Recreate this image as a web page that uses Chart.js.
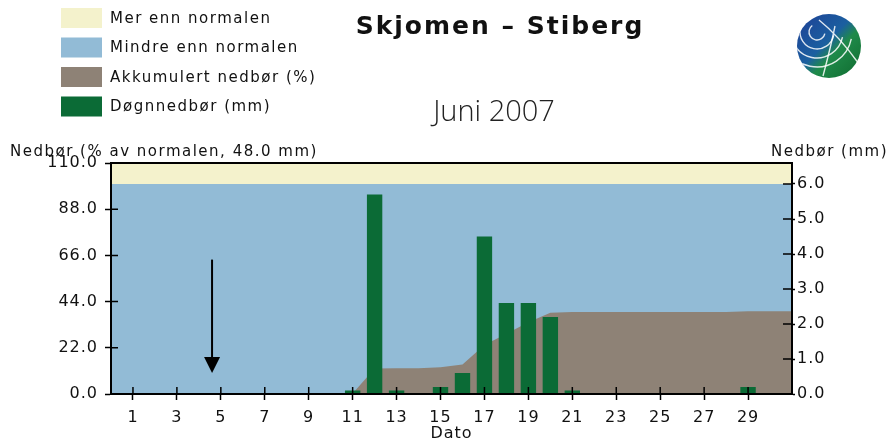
<!DOCTYPE html>
<html>
<head>
<meta charset="utf-8">
<script src="https://cdn.jsdelivr.net/npm/chart.js@4.4.1/dist/chart.umd.min.js"></script>
<style>
  html, body { margin: 0; padding: 0; background: #fff; }
  canvas { display: block; }
</style>
</head>
<body>
<canvas id="nedbor" width="890" height="443"></canvas>
<script>
// Juni 2007, dag for dag
const dager = [1, 2, 3, 4, 5, 6, 7, 8, 9, 10, 11, 12, 13, 14, 15,
  16, 17, 18, 19, 20, 21, 22, 23, 24, 25, 26, 27, 28, 29, 30];
// Døgnnedbør (mm)
const dogn = [0, 0, 0, 0, 0, 0, 0, 0, 0, 0, 0.1, 5.7, 0.1, 0, 0.2,
  0.6, 4.5, 2.6, 2.6, 2.2, 0.1, 0, 0, 0, 0, 0, 0, 0, 0.2, 0];
// Akkumulert nedbør (% av normalen)
const akkumulert = [0, 0, 0, 0, 0, 0, 0, 0, 0, 0, 0.2, 12.1, 12.3, 12.3, 12.7,
  14.0, 23.3, 28.7, 34.2, 38.7, 39.0, 39.0, 39.0, 39.0, 39.0, 39.0, 39.0, 39.0, 39.4, 39.4];

const dagTicks = [1, 3, 5, 7, 9, 11, 13, 15, 17, 19, 21, 23, 25, 27, 29];
const prosentTicks = [0, 22, 44, 66, 88, 110];
const mmTicks = [0, 1, 2, 3, 4, 5, 6];
const normalProsent = 100;
const maksProsent = 110;
const maksMm = 6.6;
const normalMm = 48.0;
const xMin = 0, xMax = 31;
// pila i plottet (dag, fra/til i % av normalen)
const pil = { dag: 4.6, fra: 64, til: 10 };

const gul = '#f4f2cc', bla = '#92bbd6', brun = '#8e8276', gronn = '#0b6b36';

Chart.defaults.font.family = '"DejaVu Sans", Verdana, sans-serif';

const flate = v => [{ x: xMin, y: v }, { x: xMax, y: v }];

const pynt = {
  id: 'pynt',
  beforeDraw(chart) {
    chart.ctx.letterSpacing = '1px';
  },
  afterDatasetsDraw(chart) {
    const { ctx, chartArea: a, scales } = chart;
    ctx.save();
    ctx.strokeStyle = '#000';
    // innoverpekende tick-merker
    ctx.lineWidth = 1.5;
    ctx.beginPath();
    scales.x.ticks.forEach(t => {
      const x = scales.x.getPixelForValue(t.value);
      ctx.moveTo(x, a.bottom); ctx.lineTo(x, a.bottom - 7);
    });
    scales.y.ticks.forEach(t => {
      const y = scales.y.getPixelForValue(t.value);
      ctx.moveTo(a.left, y); ctx.lineTo(a.left + 7, y);
    });
    scales.y1.ticks.forEach(t => {
      const y = scales.y1.getPixelForValue(t.value);
      ctx.moveTo(a.right, y); ctx.lineTo(a.right - 9, y);
    });
    ctx.stroke();
    // ramme
    ctx.lineWidth = 2;
    ctx.strokeRect(a.left, a.top, a.right - a.left, a.bottom - a.top);
    // pil
    const px = scales.x.getPixelForValue(pil.dag);
    const y0 = scales.y.getPixelForValue(pil.fra);
    const y1 = scales.y.getPixelForValue(pil.til);
    ctx.beginPath();
    ctx.moveTo(px, y0); ctx.lineTo(px, y1 - 14);
    ctx.stroke();
    ctx.fillStyle = '#000';
    ctx.beginPath();
    ctx.moveTo(px - 8, y1 - 16); ctx.lineTo(px + 8, y1 - 16); ctx.lineTo(px, y1);
    ctx.closePath();
    ctx.fill();
    ctx.restore();
  },
  afterDraw(chart) {
    const { ctx } = chart;
    ctx.save();
    // tegnforklaring
    ctx.font = '15px "DejaVu Sans"';
    ctx.letterSpacing = '1.5px';
    ctx.textBaseline = 'middle';
    ctx.textAlign = 'left';
    chart.data.datasets.forEach((d, i) => {
      const y = 18 + i * 29.5;
      ctx.fillStyle = d.backgroundColor;
      ctx.fillRect(61, y - 10, 41, 20);
      ctx.fillStyle = '#111';
      ctx.fillText(d.label, 110, y + 1);
    });
    // aksetitler
    ctx.textBaseline = 'alphabetic';
    ctx.fillText('Nedbør (% av normalen, ' + normalMm.toFixed(1) + ' mm)', 10, 156);
    ctx.textAlign = 'right';
    ctx.fillText('Nedbør (mm)', 888, 156);
    // tittel
    ctx.textAlign = 'center';
    ctx.letterSpacing = '2px';
    ctx.font = 'bold 25px "DejaVu Sans"';
    ctx.fillStyle = '#111';
    ctx.fillText('Skjomen – Stiberg', 500, 34);
    ctx.letterSpacing = '0px';
    ctx.font = '300 29px "Open Sans"';
    ctx.fillStyle = '#222';
    ctx.fillText('Juni 2007', 494, 121);
    // logo
    const cx = 829, cy = 46, r = 32;
    const g = ctx.createLinearGradient(cx - r, cy - r, cx + r, cy + r);
    g.addColorStop(0, '#1f3f95');
    g.addColorStop(0.45, '#1b5fa0');
    g.addColorStop(0.6, '#1f8a4a');
    g.addColorStop(1, '#0f6a2e');
    ctx.beginPath();
    ctx.arc(cx, cy, r, 0, Math.PI * 2);
    ctx.fillStyle = g;
    ctx.fill();
    ctx.save();
    ctx.clip();
    ctx.strokeStyle = 'rgba(255,255,255,0.85)';
    ctx.lineWidth = 1.4;
    for (let k = 0; k < 4; k++) {
      ctx.beginPath();
      ctx.arc(cx - 12, cy - 14, 8 + k * 9, 0.2, Math.PI * 1.3);
      ctx.stroke();
    }
    ctx.beginPath();
    ctx.moveTo(cx - 10, cy - 26); ctx.quadraticCurveTo(cx + 10, cy - 10, cx + 30, cy + 18);
    ctx.moveTo(cx - 6, cy + 30); ctx.quadraticCurveTo(cx + 2, cy, cx + 6, cy - 20);
    ctx.stroke();
    ctx.restore();
    ctx.restore();
  }
};

new Chart(document.getElementById('nedbor'), {
  type: 'bar',
  data: {
    datasets: [
      {
        type: 'line',
        label: 'Mer enn normalen',
        data: flate(maksProsent),
        backgroundColor: gul,
        borderColor: 'transparent',
        borderWidth: 0,
        pointRadius: 0,
        fill: 'origin',
        yAxisID: 'y',
        order: 4
      },
      {
        type: 'line',
        label: 'Mindre enn normalen',
        data: flate(normalProsent),
        backgroundColor: bla,
        borderColor: 'transparent',
        borderWidth: 0,
        pointRadius: 0,
        fill: 'origin',
        yAxisID: 'y',
        order: 3
      },
      {
        type: 'line',
        label: 'Akkumulert nedbør (%)',
        data: [{ x: xMin, y: 0 }]
          .concat(dager.map((d, i) => ({ x: d, y: akkumulert[i] })))
          .concat([{ x: xMax, y: akkumulert[akkumulert.length - 1] }]),
        backgroundColor: brun,
        borderColor: 'transparent',
        borderWidth: 0,
        pointRadius: 0,
        fill: 'origin',
        yAxisID: 'y',
        order: 2
      },
      {
        type: 'bar',
        label: 'Døgnnedbør (mm)',
        data: dager.map((d, i) => ({ x: d, y: dogn[i] })),
        backgroundColor: gronn,
        barPercentage: 0.7,
        categoryPercentage: 1,
        yAxisID: 'y1',
        order: 1
      }
    ]
  },
  options: {
    responsive: false,
    animation: false,
    devicePixelRatio: 1,
    layout: { padding: { top: 163, left: 0, right: 0, bottom: 0 } },
    plugins: { legend: { display: false }, tooltip: { enabled: false } },
    scales: {
      x: {
        type: 'linear',
        min: xMin,
        max: xMax,
        offset: false,
        afterBuildTicks: s => { s.ticks = dagTicks.map(v => ({ value: v })); },
        afterFit: s => { s.height = 49; },
        grid: { drawOnChartArea: false, offset: false, color: '#000', tickLength: 6, tickWidth: 1.5 },
        border: { color: '#000', width: 2 },
        ticks: { color: '#111', font: { size: 16 }, padding: 8, autoSkip: false, maxRotation: 0 },
        title: { display: true, text: 'Dato', color: '#111', font: { size: 16 }, padding: { top: 0, bottom: 0 } }
      },
      y: {
        type: 'linear',
        position: 'left',
        min: 0,
        max: maksProsent,
        afterBuildTicks: s => { s.ticks = prosentTicks.map(v => ({ value: v })); },
        afterFit: s => { s.width = 111; },
        grid: { drawOnChartArea: false, color: '#000', tickLength: 6, tickWidth: 1.5 },
        border: { color: '#000', width: 2 },
        ticks: { color: '#111', font: { size: 16 }, padding: 7, callback: v => v.toFixed(1) }
      },
      y1: {
        type: 'linear',
        position: 'right',
        min: 0,
        max: maksMm,
        afterBuildTicks: s => { s.ticks = mmTicks.map(v => ({ value: v })); },
        afterFit: s => { s.width = 98; },
        grid: { drawOnChartArea: false, color: '#000', tickLength: 3, tickWidth: 1.5 },
        border: { color: '#000', width: 2 },
        ticks: { color: '#111', font: { size: 16 }, padding: 2, callback: v => v.toFixed(1) }
      }
    }
  },
  plugins: [pynt]
});
</script>
</body>
</html>
